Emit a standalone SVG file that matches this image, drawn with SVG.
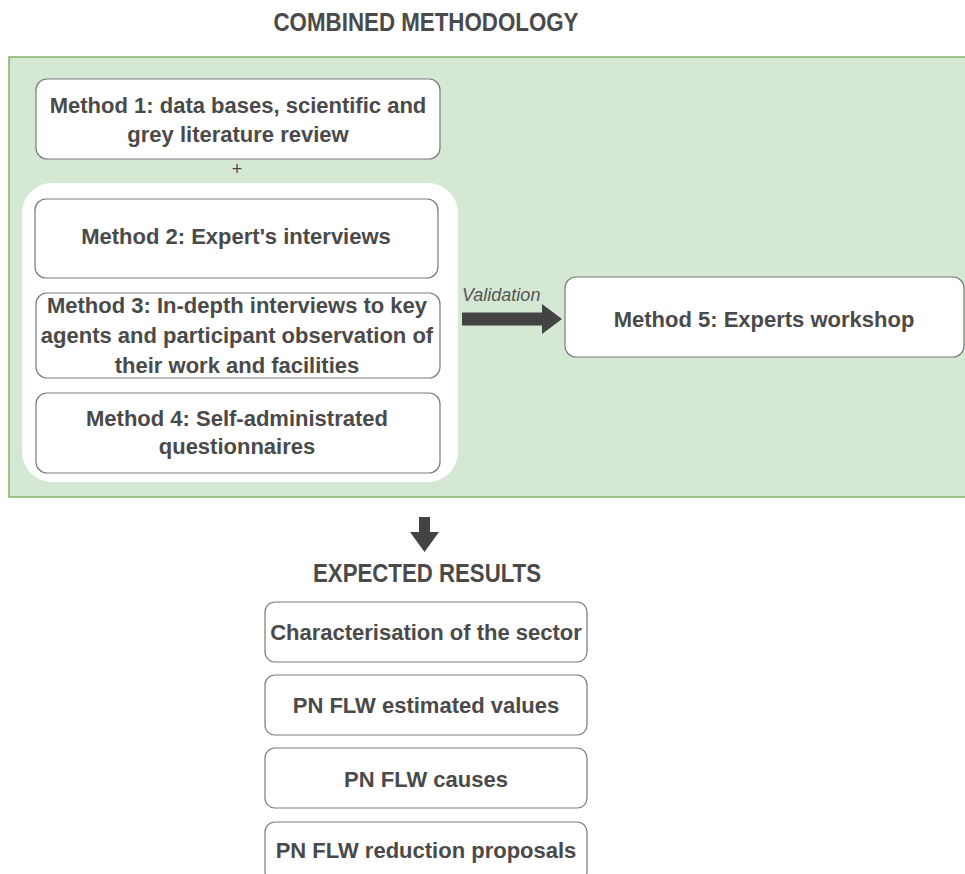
<svg xmlns="http://www.w3.org/2000/svg" width="965" height="874" viewBox="0 0 965 874">
<style>
  .t { font-family: "Liberation Sans", Arial, sans-serif; font-weight: bold; font-size: 22px; fill: #4a4a4a; text-anchor: middle; }
  .hd { font-family: "Liberation Sans", Arial, sans-serif; font-weight: bold; font-size: 25px; fill: #4a4a4a; text-anchor: middle; }
  .box { fill: #ffffff; stroke: #7a7a7a; stroke-width: 1.2; }
  .arrow { fill: #434343; }
</style>
<rect width="965" height="874" fill="#ffffff"/>
<g id="title"><text class="hd" x="426" y="31" textLength="305" lengthAdjust="spacingAndGlyphs">COMBINED METHODOLOGY</text></g>
<g id="methodology-area">
  <rect x="9" y="57" width="970" height="440" fill="#d5e8d4" stroke="#82b366" stroke-width="1.5"/>
</g>
<g id="group-2-4"><rect x="22" y="183" width="436" height="299" rx="30" fill="#ffffff"/></g>
<g id="method1">
  <rect class="box" x="36" y="79" width="404" height="80" rx="11"/>
  <text class="t" x="238" y="113">Method 1: data bases, scientific and</text>
  <text class="t" x="238" y="142">grey literature review</text>
</g>
<g id="plus"><text x="237" y="175" font-family="Liberation Sans, Arial, sans-serif" font-size="18" fill="#4a4a4a" text-anchor="middle">+</text></g>
<g id="method2">
  <rect class="box" x="35" y="199" width="403" height="79" rx="11"/>
  <text class="t" x="236" y="244">Method 2: Expert's interviews</text>
</g>
<g id="method3">
  <rect class="box" x="36" y="293" width="404" height="85" rx="11"/>
  <text class="t" x="237" y="313">Method 3: In-depth interviews to key</text>
  <text class="t" x="237" y="343">agents and participant observation of</text>
  <text class="t" x="237" y="373">their work and facilities</text>
</g>
<g id="method4">
  <rect class="box" x="36" y="393" width="404" height="80" rx="11"/>
  <text class="t" x="237" y="426">Method 4: Self-administrated</text>
  <text class="t" x="237" y="454">questionnaires</text>
</g>
<g id="method5">
  <rect class="box" x="565" y="277" width="399" height="80" rx="11"/>
  <text class="t" x="764" y="327">Method 5: Experts workshop</text>
</g>
<g id="connectors">
  <path class="arrow" d="M462,312.5 L542,312.5 L542,304 L562,319 L542,334 L542,325.5 L462,325.5 Z"/>
  <text x="462" y="301" font-family="Liberation Sans, Arial, sans-serif" font-style="italic" font-size="18" fill="#555555">Validation</text>
  <path class="arrow" d="M419,517 L430,517 L430,532 L439,532 L424.5,552 L410,532 L419,532 Z"/>
</g>
<g id="results-title"><text class="hd" x="427" y="582" textLength="228" lengthAdjust="spacingAndGlyphs">EXPECTED RESULTS</text></g>
<g id="result1">
  <rect class="box" x="265" y="602" width="322" height="60" rx="10"/>
  <text class="t" x="426" y="640">Characterisation of the sector</text>
</g>
<g id="result2">
  <rect class="box" x="265" y="675" width="322" height="60" rx="10"/>
  <text class="t" x="426" y="713">PN FLW estimated values</text>
</g>
<g id="result3">
  <rect class="box" x="265" y="748" width="322" height="60" rx="10"/>
  <text class="t" x="426" y="787">PN FLW causes</text>
</g>
<g id="result4">
  <rect class="box" x="265" y="822" width="322" height="60" rx="10"/>
  <text class="t" x="426" y="858">PN FLW reduction proposals</text>
</g>
</svg>
